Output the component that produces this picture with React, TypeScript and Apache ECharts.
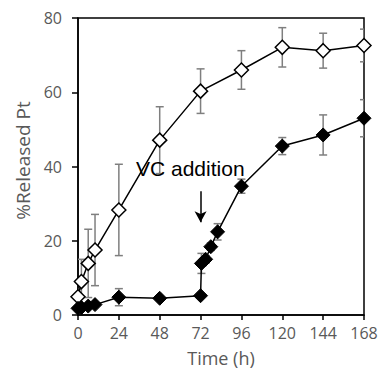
import React, { useEffect, useRef } from "react";
import * as echarts from "echarts";

const xTicks = [0, 24, 48, 72, 96, 120, 144, 168];

const openTimes = [0, 2, 6, 10, 24, 48, 72, 96, 120, 144, 168];
const openValues = [4.9, 9.0, 13.9, 17.5, 28.3, 47.1, 60.3, 66.0, 72.1, 71.2, 72.6];
const openErrors = [2, 6, 9.2, 9.6, 12.3, 9, 6, 5.2, 5.3, 4.7, 4.4];

const filledTimes = [0, 2, 6, 10, 24, 48, 72, 72.5, 75, 78, 82, 96, 120, 144, 168];
const filledValues = [1.8, 2.0, 2.4, 2.8, 4.8, 4.5, 5.2, 13.9, 15.0, 18.4, 22.4, 34.7, 45.5, 48.5, 53.0];
const filledErrors = [0.5, 0.5, 0.5, 0.5, 2.3, 0.5, 0.5, 2.7, 1, 1, 2.2, 1.9, 2.3, 5.4, 5];

const annotationText = "VC addition";
const arrowX = 72;
const arrowFrom = 33.3;
const arrowTo = 25;

const tickColor = "#595959";

function errorData(times: number[], vals: number[], errs: number[]) {
  return times.map((t, i) => [t, vals[i] - errs[i], vals[i] + errs[i]]);
}

function errorSeries(data: number[][]) {
  return {
    type: "custom",
    clip: true,
    z: 1,
    silent: true,
    data,
    encode: { x: 0, y: [1, 2] },
    renderItem: (params: any, api: any) => {
      const t = api.value(0);
      const lo = api.coord([t, api.value(1)]);
      const hi = api.coord([t, api.value(2)]);
      const w = 4;
      const style = { stroke: "#7f7f7f", lineWidth: 1.5 };
      return {
        type: "group",
        children: [
          { type: "line", shape: { x1: lo[0], y1: lo[1], x2: hi[0], y2: hi[1] }, style },
          { type: "line", shape: { x1: lo[0] - w, y1: lo[1], x2: lo[0] + w, y2: lo[1] }, style },
          { type: "line", shape: { x1: hi[0] - w, y1: hi[1], x2: hi[0] + w, y2: hi[1] }, style },
        ],
      };
    },
  };
}

export default function App() {
  const ref = useRef<HTMLDivElement>(null);
  useEffect(() => {
    if (!ref.current) return;
    const chart = echarts.init(ref.current, undefined, { renderer: "svg" });
    chart.setOption({
      animation: false,
      grid: {
        left: 78,
        right: 17,
        top: 18,
        bottom: 58,
        show: true,
        borderColor: "#000",
        borderWidth: 1.5,
        containLabel: false,
      },
      xAxis: {
        type: "value",
        min: 0,
        max: 168,
        interval: 24,
        name: "Time (h)",
        nameLocation: "middle",
        nameGap: 34,
        nameTextStyle: { fontFamily: "Open Sans", fontSize: 18, color: tickColor },
        axisLine: { lineStyle: { color: "#000", width: 1.5 } },
        axisTick: { show: true, length: 5, lineStyle: { color: "#000", width: 1.5 } },
        axisLabel: {
          fontFamily: "Open Sans",
          fontSize: 16,
          color: tickColor,
          margin: 10,
          formatter: (v: number) => (xTicks.includes(v) ? String(v) : ""),
        },
        splitLine: { show: false },
      },
      yAxis: {
        type: "value",
        min: 0,
        max: 80,
        interval: 20,
        name: "%Released Pt",
        nameLocation: "middle",
        nameGap: 46,
        nameTextStyle: { fontFamily: "Open Sans", fontSize: 19, color: tickColor, padding: [0, 0, 0, 12] },
        axisLine: { show: true, lineStyle: { color: "#000", width: 1.5 } },
        axisTick: { show: true, length: 6, lineStyle: { color: "#000", width: 1.5 } },
        axisLabel: { fontFamily: "Open Sans", fontSize: 16, color: tickColor, margin: 16 },
        splitLine: { show: false },
      },
      series: [
        errorSeries(errorData(openTimes, openValues, openErrors)),
        errorSeries(errorData(filledTimes, filledValues, filledErrors)),
        {
          type: "line",
          z: 3,
          data: openTimes.map((t, i) => [t, openValues[i]]),
          symbol: "diamond",
          symbolSize: 14,
          showAllSymbol: true,
          lineStyle: { color: "#000", width: 1.5 },
          itemStyle: { color: "#fff", borderColor: "#000", borderWidth: 1.5 },
        },
        {
          type: "line",
          z: 3,
          data: filledTimes.map((t, i) => [t, filledValues[i]]),
          symbol: "diamond",
          symbolSize: 14,
          showAllSymbol: true,
          lineStyle: { color: "#000", width: 1.5 },
          itemStyle: { color: "#000", borderColor: "#000", borderWidth: 1 },
          markLine: {
            silent: true,
            symbol: ["none", "arrow"],
            symbolSize: [9, 11],
            label: { show: false },
            lineStyle: { color: "#000", width: 1.5, type: "solid" },
            data: [[{ coord: [arrowX, arrowFrom] }, { coord: [arrowX, arrowTo] }]],
          },
        },
      ],
      graphic: [
        {
          type: "text",
          left: 136,
          top: 158,
          z: 10,
          style: {
            text: annotationText,
            fontFamily: "Liberation Sans",
            fontSize: 21,
            fill: "#000",
          },
        },
      ],
    });
    return () => chart.dispose();
  }, []);
  return <div ref={ref} style={{ width: 381, height: 373, position: "absolute", left: 0, top: 0 }} />;
}
